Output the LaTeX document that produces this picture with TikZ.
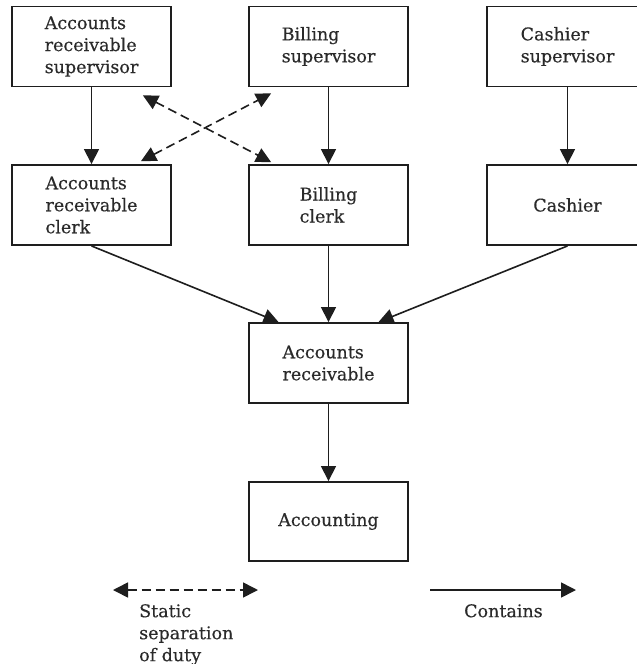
\documentclass[tikz,border=0pt]{standalone}
\usepackage{fontspec}
\setmainfont{DejaVu Serif}[BoldFont={DejaVu Serif},BoldFeatures={FakeBold=0.35}]
\usetikzlibrary{arrows.meta,calc}
\definecolor{linec}{HTML}{1E1E1E}
\definecolor{textc}{HTML}{2A2A2A}
\begin{document}
\begin{tikzpicture}[x=1pt,y=-1pt,
  txt/.style={text=textc,font=\fontsize{17.5}{22}\selectfont\bfseries},
  box/.style={txt,draw=linec,line width=1.9pt,minimum width=159pt,minimum height=80pt,
    inner sep=0pt,align=left},
  label/.style={txt,inner sep=0pt,align=left},
  contains/.style={draw=linec,line width=1.6pt,-{Triangle[length=15pt,width=15pt]}},
  ssod/.style={draw=linec,line width=1.6pt,dash pattern=on 9pt off 5pt,
    {Triangle[length=15pt,width=15pt]}-{Triangle[length=15pt,width=15pt]}}]
\useasboundingbox (0,0) rectangle (637,664);
\fill[white] (0,0) rectangle (637,664);

% roles
\node[box] (arsup) at (91.5,46.5) {Accounts\\receivable\\supervisor};
\node[box] (bsup) at (328.5,46.5) {Billing\\supervisor};
\node[box,minimum width=161pt] (csup) at (567.5,46.5) {Cashier\\supervisor};
\node[box] (arclerk) at (91.5,205) {Accounts\\receivable\\clerk};
\node[box] (bclerk) at (328.5,205) {Billing\\clerk};
\node[box,minimum width=161pt] (cashier) at (567.5,205) {Cashier};
\node[box] (ar) at (328.5,363) {Accounts\\receivable};
\node[box,minimum height=79pt] (acct) at (328.5,521.5) {Accounting};

% containment
\draw[contains] (arsup) -- (arclerk);
\draw[contains] (bsup) -- (bclerk);
\draw[contains] (csup) -- (cashier);
\coordinate (arL) at ($(ar.north)+(-50,0)$);
\coordinate (arR) at ($(ar.north)+(50,0)$);
\draw[contains] (arclerk.south) -- (arL);
\draw[contains] (bclerk) -- (ar);
\draw[contains] (cashier.south) -- (arR);
\draw[contains] (ar) -- (acct);

% static separation of duty
\coordinate (d1a) at ($(arsup.south east)+(-29,8)$);
\coordinate (d1b) at ($(bclerk.north west)+(23,-2)$);
\coordinate (d2a) at ($(arclerk.north west)+(130,-3)$);
\coordinate (d2b) at ($(bsup.south west)+(23,6)$);
\draw[ssod] (d1a) -- (d1b);
\draw[ssod] (d2a) -- (d2b);

% legend
\coordinate (s1) at (113,590);
\coordinate (s2) at (258,590);
\coordinate (c1) at (430,590);
\coordinate (c2) at (576,590);
\draw[ssod] (s1) -- (s2);
\draw[contains] (c1) -- (c2);
\node[label,anchor=north west] (ssodtext) at (139,604) {Static\\separation\\of duty};
\node[label,anchor=north west] (conttext) at (464,604) {Contains};
\end{tikzpicture}
\end{document}
